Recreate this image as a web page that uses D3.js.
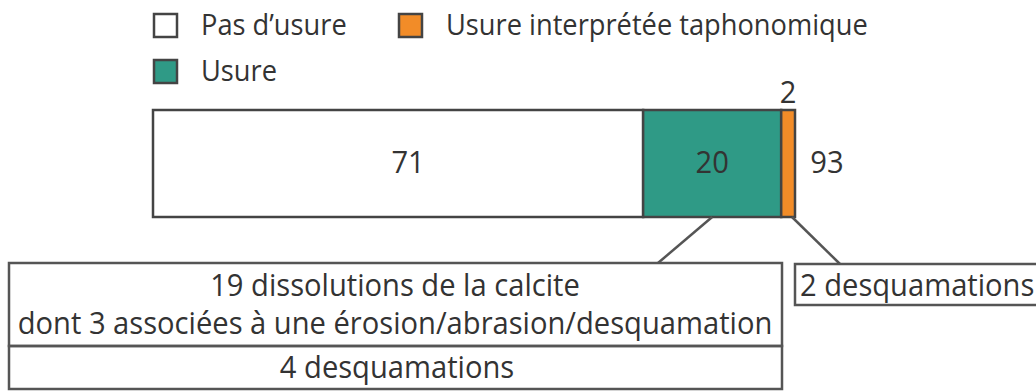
<!DOCTYPE html>
<html>
<head>
<meta charset="utf-8">
<script src="https://cdn.jsdelivr.net/npm/d3@7"></script>
<style>
    body { margin: 0; background: #fff; }
    svg { display: block; font-family: 'Open Sans', sans-serif; }
</style>
</head>
<body>
<div class="wearChart"></div>
<script>
// data
const categories = ['Pas d\u2019usure', 'Usure', 'Usure interprétée taphonomique'];
const values = [71, 20, 2];
const colors = ['#ffffff', '#2f9a86', '#f28c28'];
const usureDetails = ['19 dissolutions de la calcite', 'dont 3 associées à une érosion/abrasion/desquamation'];
const usureDetails2 = ['4 desquamations'];
const taphoDetails = ['2 desquamations'];

const width = 1036, height = 391;
const fontSize = 31, squeeze = 0.94;   // condensed look of the original face

let svg = d3.select('.wearChart').append('svg')
    .attr('width', width)
    .attr('height', height);

let total = d3.sum(values);
let x = d3.scaleLinear().domain([0, total]).range([153, 795]);
let y = d3.scaleBand().domain(['bar']).range([110, 217]);

// stacked segments
let stack = [];
let acc = 0;
values.forEach((v, i) => {
    stack.push({name: categories[i], value: v, x0: acc, x1: acc + v, color: colors[i]});
    acc += v;
});

// helper for condensed text
function label(g, tx, ty, txt, anchor, size) {
    return g.append('text')
        .attr('transform', 'translate(' + tx + ',' + ty + ') scale(' + squeeze + ',1)')
        .attr('text-anchor', anchor || 'middle')
        .attr('dominant-baseline', 'central')
        .attr('font-size', size || fontSize)
        .attr('fill', '#333')
        .text(txt);
}

// legend
let legendPos = [{x: 153, y: 13}, {x: 153, y: 59}, {x: 398, y: 13}];
let legend = svg.append('g');
stack.forEach((d, i) => {
    let p = legendPos[i];
    legend.append('rect')
        .attr('x', p.x + 1).attr('y', p.y + 1)
        .attr('width', 23).attr('height', 23)
        .attr('fill', d.color)
        .attr('stroke', '#444')
        .attr('stroke-width', 2.5);
    label(legend, p.x + 48, p.y + 11, d.name, 'start', 29);
});

// bar
let bar = svg.append('g');
bar.selectAll('rect')
    .data(stack)
    .enter().append('rect')
    .attr('x', d => x(d.x0))
    .attr('y', y('bar'))
    .attr('width', d => x(d.x1) - x(d.x0))
    .attr('height', y.bandwidth())
    .attr('fill', d => d.color)
    .attr('stroke', '#444')
    .attr('stroke-width', 2.5);

let yMid = y('bar') + y.bandwidth() / 2;
stack.forEach((d) => {
    if (d.value >= 10) {
        label(bar, (x(d.x0) + x(d.x1)) / 2 + (d.x0 === 0 ? 10 : 0), yMid - 2, d.value);
    } else {
        label(bar, (x(d.x0) + x(d.x1)) / 2, y('bar') - 19, d.value);
    }
});
label(bar, x(total) + 32, yMid - 2, total);

// detail boxes
let boxes = svg.append('g')
    .attr('fill', 'none')
    .attr('stroke', '#555')
    .attr('stroke-width', 2.5);

let usure = stack[1], tapho = stack[2];
boxes.append('line')
    .attr('x1', x((usure.x0 + usure.x1) / 2)).attr('y1', y('bar') + y.bandwidth())
    .attr('x2', 658).attr('y2', 263);
boxes.append('line')
    .attr('x1', x(tapho.x1) - 3).attr('y1', y('bar') + y.bandwidth())
    .attr('x2', 840).attr('y2', 264);

boxes.append('rect').attr('x', 9).attr('y', 263).attr('width', 773).attr('height', 83);
boxes.append('rect').attr('x', 9).attr('y', 346).attr('width', 773).attr('height', 43);
boxes.append('rect').attr('x', 795).attr('y', 264).attr('width', 260).attr('height', 41);

let txt = svg.append('g');
usureDetails.forEach((t, i) => label(txt, 395, 284 + i * 38, t));
usureDetails2.forEach((t) => label(txt, 397, 366, t));
taphoDetails.forEach((t) => label(txt, 800, 284, t, 'start'));
</script>
</body>
</html>
